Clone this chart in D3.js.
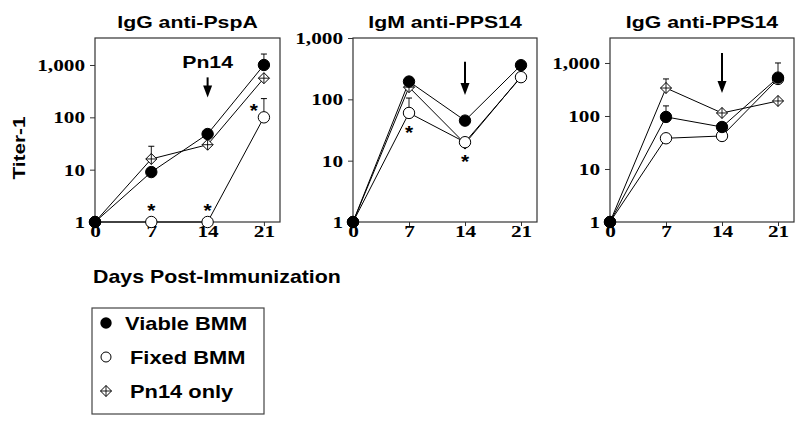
<!DOCTYPE html>
<html>
<head>
<meta charset="utf-8">
<script src="https://cdn.jsdelivr.net/npm/d3@7"></script>
<style>
  body { margin: 0; background: #fff; }
  svg { display: block; }
</style>
</head>
<body>
<div id="chart"></div>
<script>
// days after immunization
const days = [0, 7, 14, 21];
const xTicks = [0, 7, 14, 21];
const yTicks = [1, 10, 100, 1000];

const titles = ["IgG anti-PspA", "IgM anti-PPS14", "IgG anti-PPS14"];
const seriesNames = ["Viable BMM", "Fixed BMM", "Pn14 only"];

// titers
const viablePspA = [1, 9, 48, 1000];
const fixedPspA = [1, 1, 1, 100];
const pn14PspA = [1, 16, 30, 560];

const viableIgM = [1, 195, 45, 360];
const fixedIgM = [1, 60, 20, 230];
const pn14IgM = [1, 158, 19, 235];

const viableIgG = [1, 96, 62, 530];
const fixedIgG = [1, 38, 42, 500];
const pn14IgG = [1, 337, 114, 192];

// top of error bars (null = none drawn)
const viablePspAErr = [null, null, null, 1620];
const fixedPspAErr = [null, null, null, 228];
const pn14PspAErr = [null, 28, null, null];

const viableIgMErr = [null, null, null, null];
const fixedIgMErr = [null, 105, null, null];
const pn14IgMErr = [null, null, null, null];

const viableIgGErr = [null, 155, null, 1000];
const fixedIgGErr = [null, null, null, null];
const pn14IgGErr = [null, 500, null, null];

// significance marks on fixed BMM: [day, where]
const starsPspA = [[7, "above"], [14, "above"], [21, "left"]];
const starsIgM = [[7, "below"], [14, "below"]];
const starsIgG = [];

// arrow at day 14: [start titer, tip titer]
const arrowPspA = [580, 240];
const arrowIgM = [410, 118];
const arrowIgG = [1550, 270];

const yMax = [3280, 1000, 2960];

const panels = [
  { title: titles[0], viable: viablePspA, fixed: fixedPspA, pn14: pn14PspA,
    err: [viablePspAErr, fixedPspAErr, pn14PspAErr], stars: starsPspA, arrow: arrowPspA, top: yMax[0], label: "Pn14" },
  { title: titles[1], viable: viableIgM, fixed: fixedIgM, pn14: pn14IgM,
    err: [viableIgMErr, fixedIgMErr, pn14IgMErr], stars: starsIgM, arrow: arrowIgM, top: yMax[1], label: null },
  { title: titles[2], viable: viableIgG, fixed: fixedIgG, pn14: pn14IgG,
    err: [viableIgGErr, fixedIgGErr, pn14IgGErr], stars: starsIgG, arrow: arrowIgG, top: yMax[2], label: null },
];

const width = 800, height = 427;
const boxes = [[95, 280], [353, 537], [610, 794]];
const boxTop = 38, boxBottom = 222;
const sx = 1.25; // the lettering in the figure is wide
const sans = "'Liberation Sans', Arial, sans-serif";
const serif = "'Liberation Serif', 'Times New Roman', serif";

const svg = d3.select("#chart").append("svg")
  .attr("width", width)
  .attr("height", height);

function addText(g, x, y, txt, opt) {
  opt = opt || {};
  return g.append("text")
    .attr("transform", `translate(${x},${y})${opt.rotate ? " rotate(" + opt.rotate + ")" : ""} scale(${opt.sx || sx},1)`)
    .attr("text-anchor", opt.anchor || "middle")
    .attr("font-family", opt.family || sans)
    .attr("font-weight", "bold")
    .attr("font-size", opt.size || 17)
    .attr("fill", "#000")
    .text(txt);
}

const diamond = (g, x, y, r) => {
  g.append("path")
    .attr("d", `M${x},${y - r}L${x + r},${y}L${x},${y + r}L${x - r},${y}Z`)
    .attr("fill", "#fff").attr("stroke", "#000").attr("stroke-width", 1);
  g.append("path")
    .attr("d", `M${x},${y - r}V${y + r}M${x - r},${y}H${x + r}`)
    .attr("stroke", "#000").attr("stroke-width", 0.9);
};

panels.forEach((p, i) => {
  const [x0, x1] = boxes[i];
  const x = d3.scaleLinear().domain([0, 23]).range([x0, x1]);
  const y = d3.scaleLog().domain([1, p.top]).range([boxBottom, boxTop]);
  const g = svg.append("g");

  // frame
  g.append("rect")
    .attr("x", x0).attr("y", boxTop)
    .attr("width", x1 - x0).attr("height", boxBottom - boxTop)
    .attr("fill", "none").attr("stroke", "#333").attr("stroke-width", 1.2);

  // axes
  const yAxis = d3.axisLeft(y).tickValues(yTicks).tickFormat(d3.format(",")).tickSize(5).tickSizeOuter(0);
  const ya = g.append("g").attr("transform", `translate(${x0},0)`).call(yAxis);
  ya.select(".domain").remove();
  ya.selectAll("line").attr("stroke", "#333");
  ya.selectAll("text")
    .attr("x", -10 / sx)
    .attr("transform", `scale(${sx},1)`)
    .attr("font-family", serif).attr("font-weight", "bold").attr("font-size", 17).attr("fill", "#000");

  const xAxis = d3.axisBottom(x).tickValues(xTicks).tickSize(4).tickSizeOuter(0);
  const xa = g.append("g").attr("transform", `translate(0,${boxBottom})`).call(xAxis);
  xa.select(".domain").remove();
  xa.selectAll("line").attr("stroke", "#333");
  xa.selectAll("text")
    .attr("y", 15).attr("dy", 0)
    .attr("transform", `scale(${sx},1)`)
    .attr("font-family", serif).attr("font-weight", "bold").attr("font-size", 17).attr("fill", "#000");

  // title
  addText(g, (x0 + x1) / 2, 28, p.title);

  // arrow at day 14
  const ax = x(14), ay0 = y(p.arrow[0]), ay1 = y(p.arrow[1]);
  g.append("line").attr("x1", ax).attr("x2", ax).attr("y1", ay0).attr("y2", ay1 - 10)
    .attr("stroke", "#000").attr("stroke-width", 2);
  g.append("path").attr("d", `M${ax - 4.5},${ay1 - 12}L${ax + 4.5},${ay1 - 12}L${ax},${ay1}Z`).attr("fill", "#000");
  if (p.label) addText(g, ax, 68, p.label);

  const line = d3.line().x((d, j) => x(days[j])).y(d => y(d));
  const series = [p.viable, p.fixed, p.pn14];
  series.forEach(s => {
    g.append("path").datum(s).attr("d", line)
      .attr("fill", "none").attr("stroke", "#000").attr("stroke-width", 1);
  });

  // error bars
  p.err.forEach((e, k) => {
    e.forEach((top, j) => {
      if (top == null) return;
      const cx = x(days[j]);
      g.append("line").attr("x1", cx).attr("x2", cx).attr("y1", y(series[k][j])).attr("y2", y(top))
        .attr("stroke", "#000").attr("stroke-width", 0.9);
      g.append("line").attr("x1", cx - 3).attr("x2", cx + 3).attr("y1", y(top)).attr("y2", y(top))
        .attr("stroke", "#000").attr("stroke-width", 1);
    });
  });

  // markers
  p.pn14.forEach((v, j) => diamond(g, x(days[j]), y(v), 5.5));
  p.fixed.forEach((v, j) => {
    g.append("circle").attr("cx", x(days[j])).attr("cy", y(v)).attr("r", 5.7)
      .attr("fill", "#fff").attr("stroke", "#000").attr("stroke-width", 1);
  });
  p.viable.forEach((v, j) => {
    g.append("circle").attr("cx", x(days[j])).attr("cy", y(v)).attr("r", 5.7)
      .attr("fill", "#000").attr("stroke", "#000").attr("stroke-width", 1);
  });

  // significance stars
  p.stars.forEach(([d, where]) => {
    const j = days.indexOf(d);
    let sxp = x(d), syp = y(p.fixed[j]);
    if (where === "above") syp -= 15;
    if (where === "below") syp += 16;
    if (where === "left") { sxp -= 10; syp -= 10; }
    addText(g, sxp, syp + 10, "*", { size: 19, sx: 1.1 });
  });
});

// shared axis titles
addText(svg, 25, 148, "Titer-1", { rotate: -90, sx: 1.22 });
addText(svg, 93, 283, "Days Post-Immunization", { anchor: "start", size: 17.5, sx: 1.22 });

// legend
const lg = svg.append("g");
lg.append("rect").attr("x", 92).attr("y", 308).attr("width", 172).attr("height", 106)
  .attr("fill", "#fff").attr("stroke", "#444").attr("stroke-width", 1.2);
const legendY = [323, 357, 391];
const legendTextX = [125, 130, 130];
lg.append("circle").attr("cx", 106).attr("cy", legendY[0]).attr("r", 5.7).attr("fill", "#000");
lg.append("circle").attr("cx", 106).attr("cy", legendY[1]).attr("r", 5).attr("fill", "#fff").attr("stroke", "#000");
diamond(lg, 106, legendY[2], 5.5);
seriesNames.forEach((n, k) => {
  addText(lg, legendTextX[k], legendY[k] + 7, n, { anchor: "start", size: 17.5 });
});
</script>
</body>
</html>
